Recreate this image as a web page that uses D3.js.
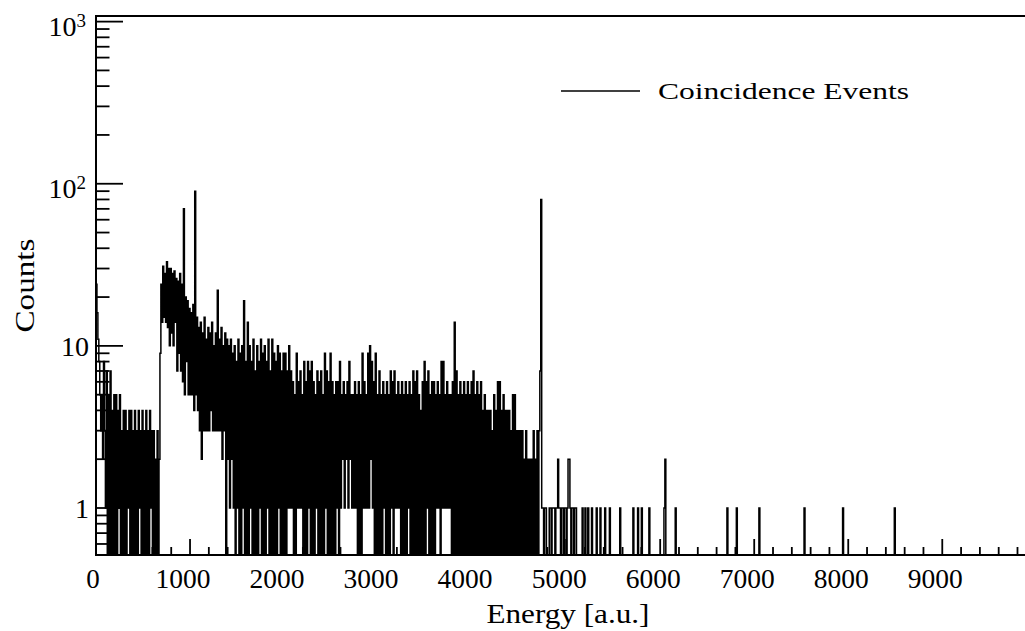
<!DOCTYPE html>
<html>
<head>
<meta charset="utf-8">
<script src="https://cdn.jsdelivr.net/npm/d3@7"></script>
<style>
  html, body { margin: 0; padding: 0; background: #ffffff; }
  svg { display: block; }
  text { font-family: "Liberation Serif", "Times New Roman", serif; fill: #000; }
</style>
</head>
<body>
<svg id="chart" width="1025" height="631"></svg>
<script>
// Histogram binning (energy in a.u.)
const binWidth = 10;
const energyMax = 10000;

// Counts per 10-unit bin, energy 0–990
const countsLow = [
  24, 16, 11, 8, 5, 3, 5, 2, 8, 3,
  1, 7, 0, 5, 0, 7, 0, 4, 0, 5,
  0, 5, 0, 4, 1, 5, 0, 3, 0, 4,
  0, 4, 0, 3, 1, 4, 0, 4, 0, 3,
  0, 4, 0, 3, 0, 4, 1, 3, 0, 4,
  0, 3, 0, 4, 0, 3, 0, 4, 1, 3,
  0, 3, 0, 2, 0, 3, 0, 2, 9, 24,
  14, 31, 15, 28, 14, 33, 13, 30, 10, 30,
  12, 28, 10, 29, 14, 26, 7, 25, 9, 28,
  7, 24, 6, 70, 5, 20, 8, 19, 5, 17
];

// Counts per 10-unit bin, energy 1000–2990
const countsMid = [
  5, 16, 5, 18, 4, 90, 5, 15, 4, 13,
  3, 14, 2, 12, 3, 15, 3, 11, 3, 13,
  3, 12, 4, 14, 3, 10, 3, 12, 3, 22,
  3, 11, 3, 13, 2, 10, 3, 12, 0, 11,
  2, 10, 1, 11, 2, 9, 1, 10, 0, 8,
  1, 11, 0, 9, 0, 10, 1, 19, 0, 8,
  0, 14, 0, 10, 1, 8, 0, 11, 0, 7,
  0, 10, 0, 8, 1, 11, 0, 9, 0, 10,
  0, 8, 1, 11, 0, 7, 0, 11, 0, 9,
  0, 8, 0, 10, 1, 9, 0, 7, 0, 9,
  0, 9, 0, 7, 1, 10, 1, 7, 1, 6,
  0, 5, 0, 9, 1, 6, 1, 7, 1, 5,
  0, 8, 0, 6, 0, 8, 1, 7, 0, 8,
  0, 6, 0, 5, 1, 7, 0, 6, 0, 7,
  0, 5, 0, 9, 1, 7, 0, 6, 0, 9,
  0, 6, 0, 5, 0, 6, 1, 6, 0, 8,
  1, 5, 2, 6, 1, 5, 2, 6, 1, 8,
  2, 5, 1, 5, 1, 6, 1, 5, 0, 6,
  0, 5, 0, 9, 1, 6, 1, 5, 1, 9,
  1, 10, 2, 8, 1, 6, 0, 9, 0, 5
];

// Counts per 10-unit bin, energy 3000–5190
const countsHigh = [
  0, 7, 0, 5, 0, 6, 1, 5, 0, 6,
  0, 5, 0, 7, 1, 6, 0, 7, 1, 5,
  1, 6, 1, 5, 0, 6, 0, 5, 0, 6,
  0, 5, 1, 6, 0, 5, 0, 7, 0, 6,
  0, 7, 0, 5, 0, 4, 0, 6, 0, 8,
  0, 6, 1, 7, 0, 5, 0, 6, 0, 6,
  0, 5, 1, 6, 1, 5, 0, 8, 1, 8,
  1, 5, 1, 6, 1, 5, 1, 5, 0, 6,
  0, 14, 0, 7, 0, 5, 0, 6, 0, 5,
  0, 6, 0, 5, 0, 6, 0, 5, 0, 6,
  0, 7, 0, 5, 0, 6, 0, 5, 0, 6,
  0, 4, 0, 5, 0, 4, 0, 4, 0, 4,
  0, 3, 0, 5, 0, 4, 0, 6, 0, 6,
  0, 4, 0, 5, 0, 4, 0, 4, 0, 4,
  0, 3, 0, 5, 0, 5, 0, 3, 0, 3,
  0, 3, 0, 3, 0, 2, 0, 3, 0, 2,
  0, 2, 0, 2, 0, 3, 0, 2, 0, 3,
  0, 3, 7, 80, 1, 1, 0, 1, 1, 0,
  0, 0, 1, 1, 0, 1, 1, 1, 0, 1,
  1, 2, 1, 1, 0, 1, 1, 0, 1, 1,
  0, 1, 2, 2, 1, 0, 1, 1, 0, 1,
  1, 0, 0, 0, 0, 0, 0, 1, 0, 0
];

// Sparse high-energy entries: [bin lower edge, counts]
const tailEvents = [
  [5200, 1], [5230, 1], [5270, 1], [5320, 1], [5360, 1], [5410, 1],
  [5460, 1], [5570, 1], [5710, 1], [5760, 1], [5800, 1], [5880, 1],
  [6040, 1], [6050, 2], [6160, 1], [6710, 1], [6810, 1], [7050, 1],
  [7530, 1], [7940, 1], [8490, 1]
];

// Axis labels
const xTickValues = [0, 1000, 2000, 3000, 4000, 5000, 6000, 7000, 8000, 9000];
const xTickLabels = ["0", "1000", "2000", "3000", "4000", "5000", "6000", "7000", "8000", "9000"];
const yTickValues = [1, 10, 100, 1000];
const yTickBase = ["1", "10", "10", "10"];
const yTickExp = ["", "", "2", "3"];
const xTitle = "Energy [a.u.]";
const yTitle = "Counts";
const legendLabel = "Coincidence Events";

// ---- build the full histogram ----
const nBins = energyMax / binWidth;
const counts = new Array(nBins).fill(0);
countsLow.concat(countsMid, countsHigh).forEach((c, i) => { counts[i] = c; });
tailEvents.forEach(([e, c]) => { counts[Math.round(e / binWidth)] = c; });

// ---- frame geometry ----
const frame = { left: 96, right: 1036.3, top: 16, bottom: 555 };
const yMin = 0.513, yMax = 1083;

const x = d3.scaleLinear().domain([0, energyMax]).range([frame.left, frame.right]);
const y = d3.scaleLog().domain([yMin, yMax]).range([frame.bottom, frame.top]);

const svg = d3.select("#chart");

svg.append("defs").append("clipPath").attr("id", "plotClip")
  .append("rect")
  .attr("x", frame.left).attr("y", frame.top)
  .attr("width", frame.right - frame.left)
  .attr("height", frame.bottom - frame.top);

// ---- histogram outline (step line) ----
const stepPoints = [];
counts.forEach((c, i) => {
  stepPoints.push([i * binWidth, c]);
  stepPoints.push([(i + 1) * binWidth, c]);
});

const stepLine = d3.line()
  .x(d => x(d[0]))
  .y(d => y(Math.max(d[1], yMin)));

svg.append("path")
  .datum(stepPoints)
  .attr("clip-path", "url(#plotClip)")
  .attr("d", stepLine)
  .attr("fill", "none")
  .attr("stroke", "#000")
  .attr("stroke-width", 1.5)
  .attr("stroke-linejoin", "miter");

// ---- frame ----
const axisG = svg.append("g").attr("stroke", "#000").attr("fill", "none");
axisG.append("line").attr("x1", frame.left).attr("x2", frame.right + 5)
  .attr("y1", frame.top).attr("y2", frame.top).attr("stroke-width", 1.8);
axisG.append("line").attr("x1", frame.left).attr("x2", frame.right + 5)
  .attr("y1", frame.bottom).attr("y2", frame.bottom).attr("stroke-width", 2);
axisG.append("line").attr("x1", frame.left).attr("x2", frame.left)
  .attr("y1", frame.top - 1).attr("y2", frame.bottom + 1).attr("stroke-width", 2);

// x ticks: major every 1000, minor every 200
const xTicksAll = d3.range(0, energyMax + 1, 200);
axisG.selectAll("line.xtick").data(xTicksAll).join("line")
  .attr("class", "xtick")
  .attr("x1", d => x(d)).attr("x2", d => x(d))
  .attr("y1", frame.bottom)
  .attr("y2", d => frame.bottom - (d % 1000 === 0 ? 16 : 8))
  .attr("stroke-width", 1.8);

// y ticks: decades and 2..9 subdivisions
const yTicksAll = [];
for (let p = -1; p <= 3; p++) {
  for (let m = 1; m <= 9; m++) {
    const v = m * Math.pow(10, p);
    if (v >= yMin && v <= yMax) yTicksAll.push({ v, major: m === 1 });
  }
}
axisG.selectAll("line.ytick").data(yTicksAll).join("line")
  .attr("class", "ytick")
  .attr("x1", frame.left)
  .attr("x2", d => frame.left + (d.major ? 27 : 13.5))
  .attr("y1", d => y(d.v)).attr("y2", d => y(d.v))
  .attr("stroke-width", 1.8);

// x tick labels
svg.append("g").selectAll("text").data(xTickValues).join("text")
  .attr("x", (d, i) => x(d) + (xTickLabels[i].length > 1 ? -7 : -3))
  .attr("y", 588)
  .attr("text-anchor", "middle")
  .attr("font-size", 27)
  .attr("textLength", (d, i) => xTickLabels[i].length > 1 ? 55 : null)
  .attr("lengthAdjust", "spacingAndGlyphs")
  .text((d, i) => xTickLabels[i]);

// y tick labels (powers of ten)
const yLab = svg.append("g").selectAll("text").data(yTickValues).join("text")
  .attr("text-anchor", "end")
  .attr("font-size", 28)
  .attr("x", (d, i) => yTickExp[i] ? 86 : 89)
  .attr("y", (d, i) => y(d) + (yTickExp[i] ? 14 : 10));
yLab.each(function (d, i) {
  const t = d3.select(this);
  t.append("tspan").text(yTickBase[i]);
  if (yTickExp[i]) {
    t.append("tspan").attr("font-size", 19).attr("dy", -9).text(yTickExp[i]);
  }
});

// axis titles
svg.append("text")
  .attr("x", 568).attr("y", 623)
  .attr("text-anchor", "middle")
  .attr("font-size", 27)
  .attr("textLength", 163).attr("lengthAdjust", "spacingAndGlyphs")
  .text(xTitle);

svg.append("text")
  .attr("transform", "translate(34,285.5) rotate(-90)")
  .attr("text-anchor", "middle")
  .attr("font-size", 27)
  .attr("textLength", 94).attr("lengthAdjust", "spacingAndGlyphs")
  .text(yTitle);

// legend
svg.append("line")
  .attr("x1", 561).attr("x2", 640).attr("y1", 91).attr("y2", 91)
  .attr("stroke", "#000").attr("stroke-width", 1.4);
svg.append("text")
  .attr("x", 658).attr("y", 98.5)
  .attr("font-size", 24)
  .attr("textLength", 251).attr("lengthAdjust", "spacingAndGlyphs")
  .text(legendLabel);
</script>
</body>
</html>
